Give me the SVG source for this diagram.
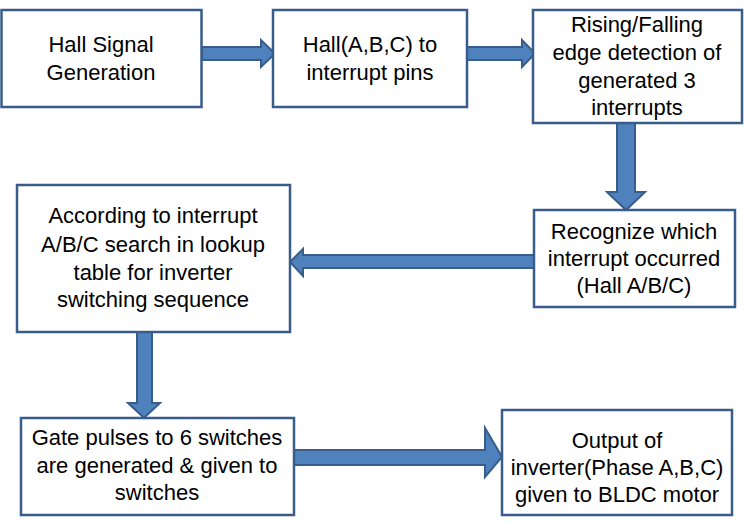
<svg xmlns="http://www.w3.org/2000/svg" width="746" height="524" viewBox="0 0 746 524">
<style>
.box{fill:#fff;stroke:#385D8A;stroke-width:2.5}
.arr{fill:#4F81BD;stroke:#385D8A;stroke-width:2;stroke-linejoin:miter}
text{font-family:"Liberation Sans",Arial,sans-serif;font-size:22px;fill:#000;text-anchor:middle}
</style>
<rect width="746" height="524" fill="#fff"/>
<g id="connectors">
<polygon class="arr" points="202,47 261,47 261,40 275,53.5 261,67 261,60 202,60"/>
<polygon class="arr" points="467,47 522,47 522,40 535,53.5 522,67 522,60 467,60"/>
<polygon class="arr" points="617,123 635,123 635,192 645,192 626,210 607,192 617,192"/>
<polygon class="arr" points="534,255 303,255 303,249 290,262 303,276 303,268 534,268"/>
<polygon class="arr" points="137,332 152,332 152,403 160,403 144,418 128,403 137,403"/>
<polygon class="arr" points="294,450 485,450 485,428 502,457 485,477 485,465 294,465"/>
</g>
<g id="n1"><rect class="box" x="1.5" y="10" width="200" height="97"/>
<text x="101" y="52">Hall Signal</text><text x="101" y="80">Generation</text></g>
<g id="n2"><rect class="box" x="273" y="10" width="194" height="97"/>
<text x="370" y="52">Hall(A,B,C) to</text><text x="370" y="80">interrupt pins</text></g>
<g id="n3"><rect class="box" x="533" y="10" width="209" height="113"/>
<text x="637" y="32">Rising/Falling</text><text x="637" y="60">edge detection of</text><text x="637" y="88">generated 3</text><text x="637" y="115">interrupts</text></g>
<g id="n4"><rect class="box" x="534" y="210" width="201" height="97"/>
<text x="634" y="239">Recognize which</text><text x="634" y="266">interrupt occurred</text><text x="634" y="293">(Hall A/B/C)</text></g>
<g id="n5"><rect class="box" x="17" y="185" width="273" height="147"/>
<text x="153" y="223">According to interrupt</text><text x="153" y="252">A/B/C search in lookup</text><text x="153" y="280">table for inverter</text><text x="153" y="307">switching sequence</text></g>
<g id="n6"><rect class="box" x="21" y="418" width="273" height="97"/>
<text x="157" y="445">Gate pulses to 6 switches</text><text x="157" y="473">are generated &amp; given to</text><text x="157" y="500">switches</text></g>
<g id="n7"><rect class="box" x="502" y="410" width="230" height="105"/>
<text x="617" y="448">Output of</text><text x="617" y="475">inverter(Phase A,B,C)</text><text x="617" y="502">given to BLDC motor</text></g>
</svg>
